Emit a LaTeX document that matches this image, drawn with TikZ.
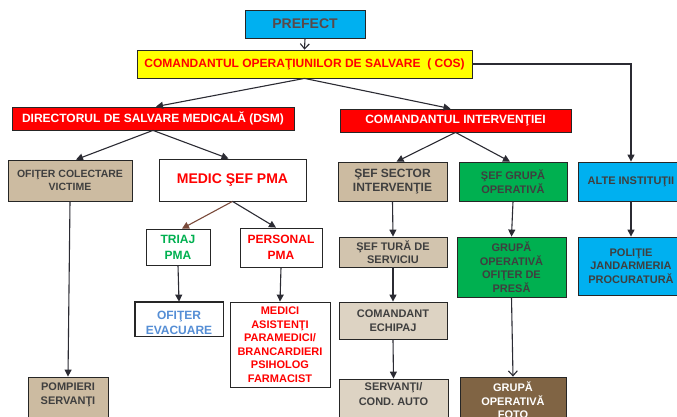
\documentclass[tikz,border=0pt]{standalone}
\usepackage{fontspec}
\setmainfont{Liberation Sans}
\usetikzlibrary{arrows.meta,positioning}
\definecolor{cyanb}{HTML}{00B0F0}
\definecolor{yelb}{HTML}{FFFF00}
\definecolor{redb}{HTML}{FF0000}
\definecolor{tanA}{HTML}{CCBBA1}
\definecolor{tanB}{HTML}{D2C4AE}
\definecolor{tanC}{HTML}{DDD3C3}
\definecolor{greenb}{HTML}{00B050}
\definecolor{brownb}{HTML}{806444}
\definecolor{txtg}{HTML}{3F3F3F}
\definecolor{prefg}{HTML}{5A4848}
\definecolor{lineg}{HTML}{2B2B33}
\definecolor{brarrow}{HTML}{7A4A3A}
\definecolor{evacblue}{HTML}{558ED5}
\begin{document}
\begin{tikzpicture}[x=1pt,y=-1pt,
  box/.style={draw=black!85, line width=0.8pt, inner sep=0pt, align=center,
    font=\bfseries\fontsize{11}{13.5}\selectfont, text=txtg},
  bigf/.style={font=\bfseries\fontsize{12}{14}\selectfont},
  txt/.style={inner sep=0pt, align=center, font=\bfseries\fontsize{11}{13.5}\selectfont},
  con/.style={draw=lineg, line width=1.1pt, -{Triangle[length=7pt,width=7pt]}},
  ocon/.style={draw=lineg, line width=1.1pt, -{Straight Barb[length=5pt,width=9pt,line width=1.1pt]}},
]
\useasboundingbox (0,0) rectangle (677,417);

% top
\node[box, fill=cyanb, text=prefg, minimum width=120, minimum height=28,
  font=\bfseries\fontsize{14}{16}\selectfont] (prefect) at (305,24) {PREFECT};
\node[box, fill=yelb, text=redb, minimum width=335, minimum height=28, bigf] (cos) at (304.5,64)
  {COMANDANTUL OPERAŢIUNILOR DE SALVARE\ \ ( COS)};
\node[box, fill=redb, text=white, minimum width=282, minimum height=23, bigf] (dsm) at (153,118.5)
  {DIRECTORUL DE SALVARE MEDICALĂ (DSM)};
\node[box, fill=redb, text=white, minimum width=231, minimum height=23, bigf] (ci) at (455.5,120.5)
  {COMANDANTUL INTERVENŢIEI};

% left branch
\node[box, fill=tanA, minimum width=124, minimum height=41, font=\bfseries\fontsize{10.5}{13.5}\selectfont] (ofc) at (70,180.5)
  {OFIŢER COLECTARE\\VICTIME};
\node[box, fill=white, text=redb, minimum width=147, minimum height=42,
  font=\bfseries\fontsize{14}{16}\selectfont] (medic) at (232.5,180) {MEDIC ŞEF PMA};
\node[box, fill=white, text=greenb, minimum width=64, minimum height=36, bigf] (triaj) at (178,247)
  {TRIAJ\\[2pt]PMA};
\node[box, fill=white, text=redb, minimum width=82, minimum height=39, bigf] (personal) at (281,247.5)
  {PERSONAL\\[2pt]PMA};
\node[box, fill=white, minimum width=88, minimum height=34] (evac) at (179,319) {};
\begin{scope}
  \clip (evac.north west) rectangle (evac.south east);
  \node[txt, text=evacblue, bigf] (evact) at (179,322.5) {OFIŢER\\[1pt]EVACUARE};
\end{scope}
\draw[draw=black!85, line width=0.8pt] (evac.north west) rectangle (evac.south east);
\node[box, fill=white, text=redb, minimum width=100, minimum height=85] (medici) at (280,344.5)
  {MEDICI\\ASISTENŢI\\PARAMEDICI/\\BRANCARDIERI\\PSIHOLOG\\FARMACIST};
\node[box, fill=tanA, minimum width=80, minimum height=56] (pomp) at (68,405) {};
\node[txt, text=txtg, below=6pt of pomp.north] (pompt) {POMPIERI\\[1pt]SERVANŢI};

% right branch
\node[box, fill=tanA, minimum width=109, minimum height=39, bigf] (ssi) at (392.5,181.5)
  {ŞEF SECTOR\\INTERVENŢIE};
\node[box, fill=greenb, minimum width=108, minimum height=39] (sgo) at (513,181.5)
  {ŞEF GRUPĂ\\OPERATIVĂ};
\node[box, fill=cyanb, minimum width=106, minimum height=39] (alte) at (631,181.5)
  {ALTE INSTITUŢII};
\node[box, fill=tanB, minimum width=108, minimum height=30] (stura) at (393,252)
  {ŞEF TURĂ DE\\SERVICIU};
\node[box, fill=greenb, minimum width=109, minimum height=60] (gop) at (511.5,267)
  {GRUPĂ\\OPERATIVĂ\\OFIŢER DE\\PRESĂ};
\node[box, fill=cyanb, minimum width=106, minimum height=58] (politie) at (631,266)
  {POLIŢIE\\JANDARMERIA\\PROCURATURĂ};
\node[box, fill=tanC, minimum width=108, minimum height=37] (cmd) at (393,320.5)
  {COMANDANT\\ECHIPAJ};
\node[box, fill=tanC, minimum width=109, minimum height=56] (serv) at (393.5,407) {};
\node[txt, text=txtg, below=4pt of serv.north] (servt) {SERVANŢI/\\[1pt]COND. AUTO};
\node[box, fill=brownb, minimum width=106, minimum height=56] (foto) at (513,405) {};
\node[txt, text=white, below=5pt of foto.north] (fotot) {GRUPĂ\\OPERATIVĂ\\FOTO};

% connectors
\draw[ocon] (prefect.south) -- (cos.north);
\draw[con] (cos.south) -- ([xshift=3pt]dsm.north);
\draw[con] (cos.south) -- ([xshift=-5pt]ci.north);
\draw[con] (cos.east) -| (alte.north);
\draw[con] (dsm.south) -- ([xshift=6pt]ofc.north);
\draw[con] (dsm.south) -- ([xshift=-4pt]medic.north);
\draw[con, draw=brarrow] (medic.south) -- ([xshift=4pt]triaj.north);
\draw[con] (medic.south) -- ([xshift=-5pt]personal.north);
\draw[con] (ofc.south) -- (pomp.north);
\draw[con] (triaj.south) -- (evac.north);
\draw[con] (personal.south) -- (medici.north);
\draw[con] (ci.south) -- ([xshift=4pt]ssi.north);
\draw[con] (ci.south) -- ([xshift=-3pt]sgo.north);
\draw[con] (ssi.south) -- (stura.north);
\draw[con] (stura.south) -- (cmd.north);
\draw[con] (cmd.south) -- (serv.north);
\draw[con] (sgo.south) -- (gop.north);
\draw[ocon] (gop.south) -- (foto.north);
\draw[con] (alte.south) -- (politie.north);
\end{tikzpicture}
\end{document}
